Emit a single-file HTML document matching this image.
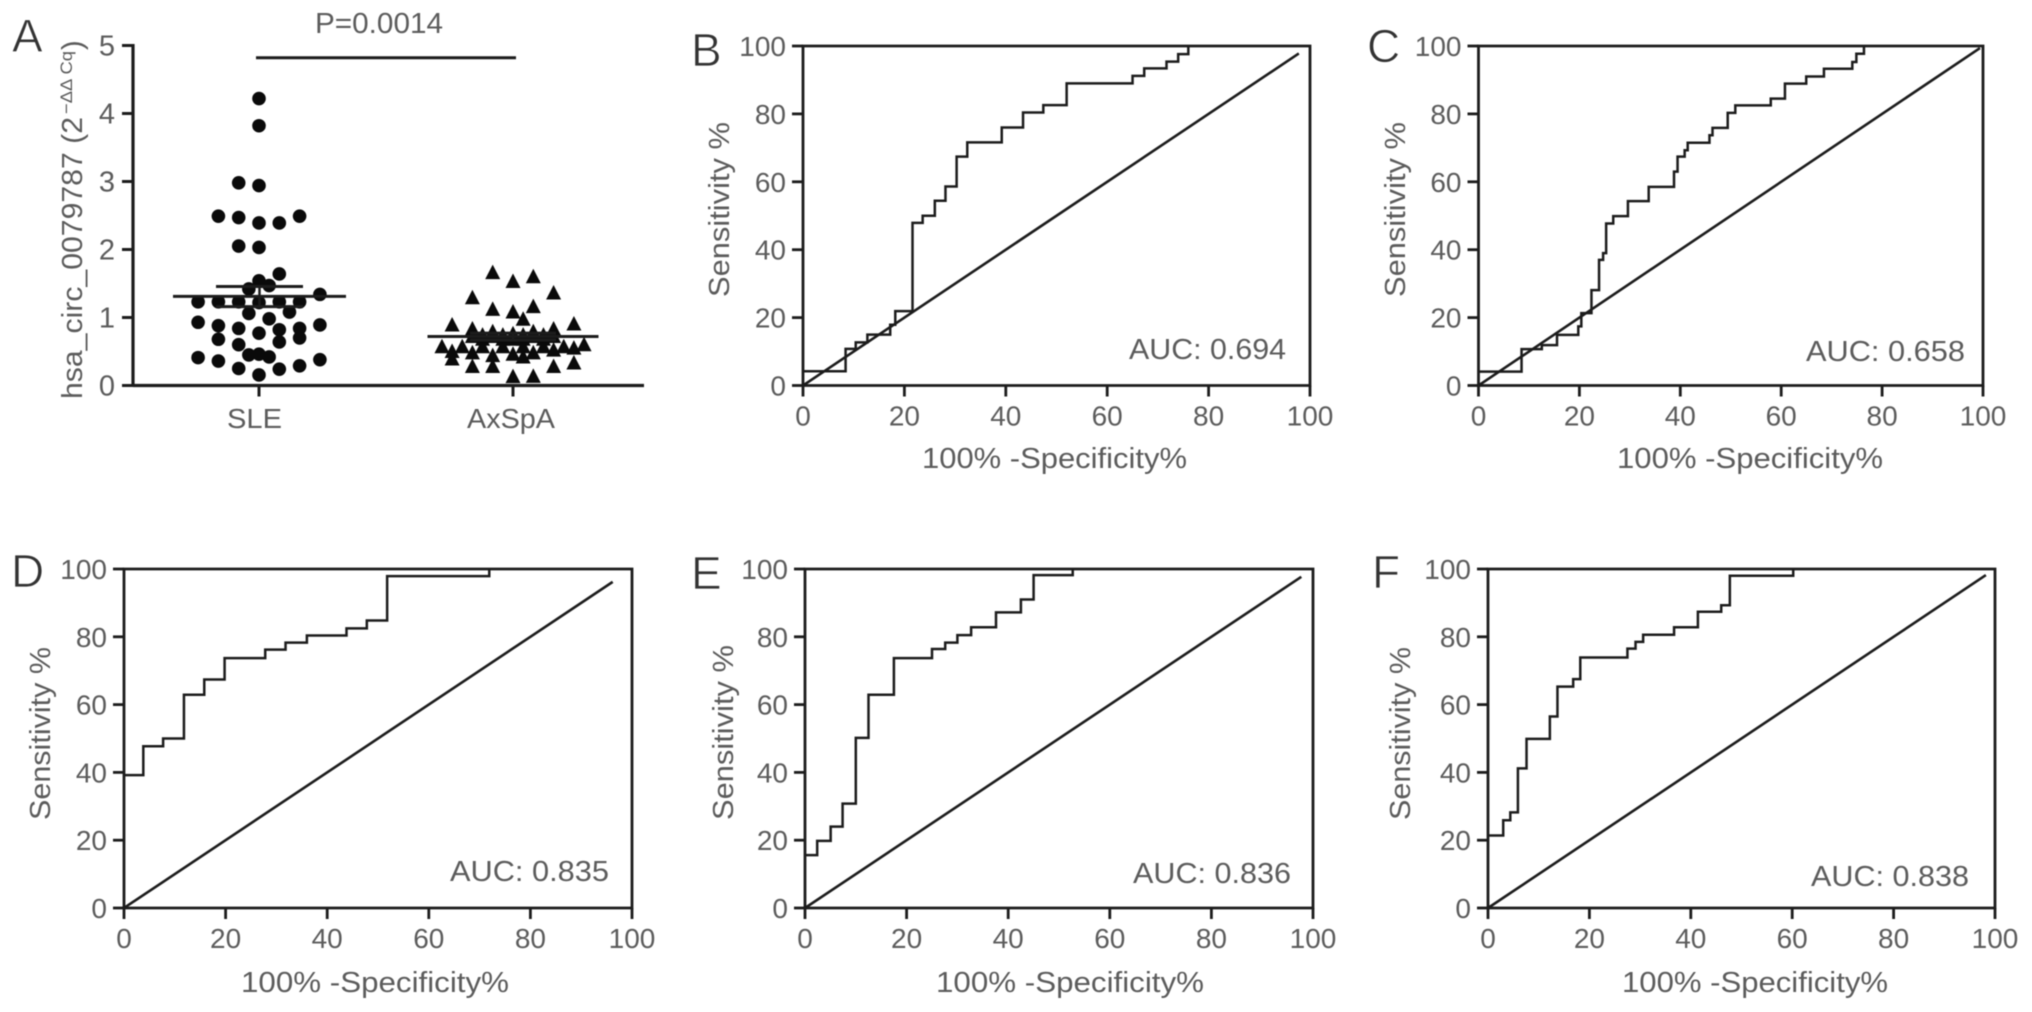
<!DOCTYPE html>
<html lang="en">
<head>
<meta charset="utf-8">
<title>hsa_circ_0079787 expression and ROC curves</title>
<style>
html,body{margin:0;padding:0;background:#fff;}
#figure{display:block;width:2032px;height:1012px;filter:blur(0.45px);}
text{font-family:"Liberation Sans",sans-serif;fill:#5c5c5c;font-size:29px;}
.letter{font-size:46px;fill:#333;stroke:#fff;stroke-width:0.8px;}
</style>
</head>
<body>
<svg id="figure" xmlns="http://www.w3.org/2000/svg" width="2032" height="1012" viewBox="0 0 2032 1012">
  <rect x="0" y="0" width="2032" height="1012" fill="#fff"/>

  <text class="letter" x="12" y="52">A</text>
  <text class="letter" x="691" y="66">B</text>
  <text class="letter" x="1367" y="62">C</text>
  <text class="letter" x="11" y="587">D</text>
  <text class="letter" x="691" y="589">E</text>
  <text class="letter" x="1372" y="588">F</text>

  <text x="315" y="33" textLength="128" lengthAdjust="spacingAndGlyphs">P=0.0014</text>
  <text transform="translate(82,399) rotate(-90)" textLength="282" lengthAdjust="spacingAndGlyphs">hsa_circ_0079787 (2</text>
  <text transform="translate(72,114) rotate(-90)" style="font-size:17px" textLength="63" lengthAdjust="spacingAndGlyphs">−ΔΔ Cq</text>
  <text transform="translate(82,50) rotate(-90)">)</text>
  <text x="227" y="428" textLength="55" lengthAdjust="spacingAndGlyphs" style="font-size:28px">SLE</text>
  <text x="467" y="428" textLength="88" lengthAdjust="spacingAndGlyphs" style="font-size:28px">AxSpA</text>

  <text transform="translate(729,297) rotate(-90)" textLength="175" lengthAdjust="spacingAndGlyphs">Sensitivity %</text>
  <text transform="translate(1405,297) rotate(-90)" textLength="175" lengthAdjust="spacingAndGlyphs">Sensitivity %</text>
  <text transform="translate(50,820) rotate(-90)" textLength="173" lengthAdjust="spacingAndGlyphs">Sensitivity %</text>
  <text transform="translate(733,820) rotate(-90)" textLength="175" lengthAdjust="spacingAndGlyphs">Sensitivity %</text>
  <text transform="translate(1410,820) rotate(-90)" textLength="173" lengthAdjust="spacingAndGlyphs">Sensitivity %</text>

  <text x="922" y="468" textLength="265" lengthAdjust="spacingAndGlyphs">100% -Specificity%</text>
  <text x="1617" y="468" textLength="266" lengthAdjust="spacingAndGlyphs">100% -Specificity%</text>
  <text x="241" y="992" textLength="268" lengthAdjust="spacingAndGlyphs">100% -Specificity%</text>
  <text x="936" y="992" textLength="268" lengthAdjust="spacingAndGlyphs">100% -Specificity%</text>
  <text x="1622" y="992" textLength="266" lengthAdjust="spacingAndGlyphs">100% -Specificity%</text>

  <text x="1129" y="359" textLength="157" lengthAdjust="spacingAndGlyphs">AUC: 0.694</text>
  <text x="1806" y="361" textLength="159" lengthAdjust="spacingAndGlyphs">AUC: 0.658</text>
  <text x="450" y="881" textLength="159" lengthAdjust="spacingAndGlyphs">AUC: 0.835</text>
  <text x="1133" y="883" textLength="158" lengthAdjust="spacingAndGlyphs">AUC: 0.836</text>
  <text x="1811" y="886" textLength="158" lengthAdjust="spacingAndGlyphs">AUC: 0.838</text>

  <g id="plots"></g>
</svg>
<script>
// Panel A values
const scatterTicks = [0, 1, 2, 3, 4, 5];
const sleValues = [4.22,3.82,2.98,2.94,2.49,2.47,2.39,2.39,2.49,2.05,2.03,1.64,1.54,1.47,1.42,1.34,1.23,1.23,1.23,1.22,1.23,1.23,1.06,1.08,0.98,0.93,0.88,0.84,0.77,0.82,0.84,0.89,0.68,0.70,0.64,0.60,0.45,0.46,0.42,0.41,0.38,0.36,0.25,0.24,0.29,0.155];
const sleSlots = [0,0,-2,0,-4,-2,0,2,4,-2,0,2,0,1,-1,6,-6,-4,-2,0,2,4,-1,3,1,-6,-4,-2,0,2,4,6,-4,4,2,-2,-1,0,1,-6,6,-4,-2,2,4,0];
const axspaValues = [1.66,1.53,1.60,1.36,1.29,1.12,1.08,1.16,0.975,0.905,0.89,0.83,0.79,0.76,0.79,0.83,0.74,0.74,0.74,0.74,0.72,0.72,0.71,0.72,0.72,0.68,0.68,0.68,0.68,0.68,0.57,0.57,0.57,0.57,0.57,0.57,0.57,0.60,0.50,0.48,0.44,0.46,0.48,0.52,0.55,0.42,0.39,0.28,0.28,0.28,0.33,0.13,0.135];
const axspaSlots = [-2,0,2,4,-4,-2,0,2,1,6,-6,-4,-2,0,2,4,-3,-1,1,3,-4,-2,0,2,4,-3,-1,0,1,3,-7,-5,-3,-1,1,3,5,7,-6,-4,-2,0,2,4,6,1,-6,-4,-2,4,6,0,2];
const sleStats = [1.31, 1.455, 1.16];
const axspaStats = [0.72, 0.77, 0.67];
const significanceLevel = 4.82;

// ROC values: X = step positions, Y = level before each step and after the last
const rocTicks = [0, 20, 40, 60, 80, 100];
const rocBX = [8.4,10.4,12.7,17.2,18.2,21.6,23.6,26,28.1,30.3,32.4,39.2,43.4,47.4,52,65,67.3,71.7,74,76];
const rocBY = [4.2,10.8,12.7,15,17.9,21.9,47.9,50,54.4,58.6,67.4,71.6,76,80.4,82.6,89,91.2,93.4,95.4,97.6,100];
const rocCX = [8.5,12.5,15.5,19.7,20.3,22.3,23.8,24.6,25.2,26.6,29.5,33.6,38.6,39.3,40.7,41.3,45.6,46.2,49.2,50.7,57.7,60.5,64.7,68.2,73.8,74.6,76.1];
const rocCY = [4.1,10.7,11.9,14.9,17.4,21.3,28.1,37,39,47.7,49.9,54.3,58.5,63,67.4,69.3,71.5,73.7,75.9,80.3,82.5,84.5,88.9,91,93.3,95.3,97.7,100];
const rocDX = [3.8,7.7,11.8,15.8,19.8,27.8,31.8,36,43.8,47.8,51.8,71.9];
const rocDY = [39.2,47.7,50,62.9,67.4,73.7,76.2,78.3,80.4,82.5,84.8,97.9,100];
const rocEX = [2.4,5.05,7.4,10,12.5,17.5,25,27.6,30,32.7,37.6,42.5,45,52.7];
const rocEY = [15.6,19.8,24,30.8,50.2,62.9,73.7,76.4,78.3,80.5,82.8,87.2,91,98.2,100];
const rocFX = [3,4.4,5.9,7.6,12.2,13.7,16.8,18.2,27.5,29.1,30.6,36.7,41.4,46,47.7,60.2];
const rocFY = [21.4,25.9,28.2,41.2,49.9,56.5,65.3,67.5,73.9,76.5,78.5,80.6,82.8,87.4,89.3,98,100];
const diagonalEnds = [97.8, 99.4, 96.2, 97.7, 98.2];

const NS = 'http://www.w3.org/2000/svg';
const INK = '#1c1c1c';
const root = document.getElementById('plots');

function make(tag, attrs, parent) {
  const el = document.createElementNS(NS, tag);
  for (const k in attrs) el.setAttribute(k, attrs[k]);
  (parent || root).appendChild(el);
  return el;
}
function line(x1, y1, x2, y2, w, parent) {
  return make('line', {x1: x1, y1: y1, x2: x2, y2: y2, stroke: INK, 'stroke-width': w}, parent);
}

/* Panel A */
function drawScatter() {
  const g = make('g', {});
  
  
  const left = 133, right = 644, top = 45.5, bottom = 385.5, slotWidth = 10.15, maxV = 5;
  const yS = v => bottom - (v / maxV) * (bottom - top);
  const slE = 259, axS = 513;

  const yAxis = line(left, top - 1.5, left, bottom + 1.5, 3.2, g);
  
  
  const xAxis = line(left, bottom, right, bottom, 3.2, g);
  
  

  scatterTicks.forEach(t => {
    const tk = line(left - 11, yS(t), left, yS(t), 3, g);
    
    
    const lb = make('text', {x: left - 18, y: yS(t) + 10, 'text-anchor': 'end'}, g);
    lb.textContent = String(t);
    
    
  });
  [slE, axS].forEach(cx => {
    const tk = line(cx, bottom, cx, bottom + 11, 3, g);
    
    
  });

  const sig = line(256, yS(significanceLevel), 516, yS(significanceLevel), 3, g);
  
  

  sleValues.forEach((v, i) => {
    const c = make('circle', {cx: slE + sleSlots[i] * slotWidth, cy: yS(v), r: 6.8, fill: '#0a0a0a'}, g);
    
    
  });
  axspaValues.forEach((v, i) => {
    const cx = axS + axspaSlots[i] * slotWidth, cy = yS(v);
    const t = make('path', {d: 'M' + cx + ' ' + (cy - 8) + 'L' + (cx + 7.5) + ' ' + (cy + 6.5) + 'L' + (cx - 7.5) + ' ' + (cy + 6.5) + 'Z', fill: '#0a0a0a'}, g);
    
    
  });

  function stats(cx, s, halfMean, halfErr, name) {
    const m = line(cx - halfMean, yS(s[0]), cx + halfMean, yS(s[0]), 3, g);
    
    
    const u = line(cx - halfErr, yS(s[1]), cx + halfErr, yS(s[1]), 3, g);
    
    
    const d = line(cx - halfErr, yS(s[2]), cx + halfErr, yS(s[2]), 3, g);
    
    
    const v = line(cx, yS(s[1]), cx, yS(s[2]), 2.5, g);
    
    
  }
  stats(slE + 0.5, sleStats, 86.5, 43.5, 'sle');
  stats(axS, axspaStats, 85.5, 43, 'axspa');
}

/* ROC panels */
function drawRoc(name, box, xs, ys, diagEnd) {
  const g = make('g', {});
  
  
  const xS = v => box.left + (v / 100) * (box.right - box.left);
  const yS = v => box.bottom - (v / 100) * (box.bottom - box.top);

  const frame = make('path', {d: 'M' + box.left + ' ' + (box.bottom + 1) + 'V' + box.top + 'H' + box.right + 'V' + box.bottom + 'H' + box.left, fill: 'none', stroke: INK, 'stroke-width': 2.8}, g);
  
  

  rocTicks.forEach(t => {
    const ty = line(box.left - 11, yS(t), box.left, yS(t), 2.8, g);
    
    
    const ly = make('text', {x: box.left - 17, y: yS(t) + 10, 'text-anchor': 'end', style: 'font-size:28px'}, g);
    ly.textContent = String(t);
    
    
    const tx = line(xS(t), box.bottom, xS(t), box.bottom + 11, 2.8, g);
    
    
    const lx = make('text', {x: xS(t), y: box.bottom + 40, 'text-anchor': 'middle', style: 'font-size:28px'}, g);
    lx.textContent = String(t);
    
    
  });

  const diag = line(xS(0), yS(0), xS(diagEnd), yS(diagEnd), 2.6, g);
  
  

  let d = 'M' + xS(0) + ' ' + yS(ys[0]);
  xs.forEach((x, i) => {
    d += 'H' + xS(x) + 'V' + yS(ys[i + 1]);
  });
  const curve = make('path', {d: d, fill: 'none', stroke: INK, 'stroke-width': 2.5}, g);
  
  
}

drawScatter();
drawRoc('panel-b', {left: 803, right: 1310, top: 46, bottom: 385.5}, rocBX, rocBY, diagonalEnds[0]);
drawRoc('panel-c', {left: 1478.5, right: 1983, top: 46, bottom: 385.5}, rocCX.map(x => x * 1.004), rocCY, diagonalEnds[1]);
drawRoc('panel-d', {left: 124, right: 632, top: 569, bottom: 908}, rocDX, rocDY, diagonalEnds[2]);
drawRoc('panel-e', {left: 805, right: 1313, top: 569, bottom: 908}, rocEX, rocEY, diagonalEnds[3]);
drawRoc('panel-f', {left: 1488, right: 1995, top: 569, bottom: 908}, rocFX, rocFY, diagonalEnds[4]);
</script>
</body>
</html>
